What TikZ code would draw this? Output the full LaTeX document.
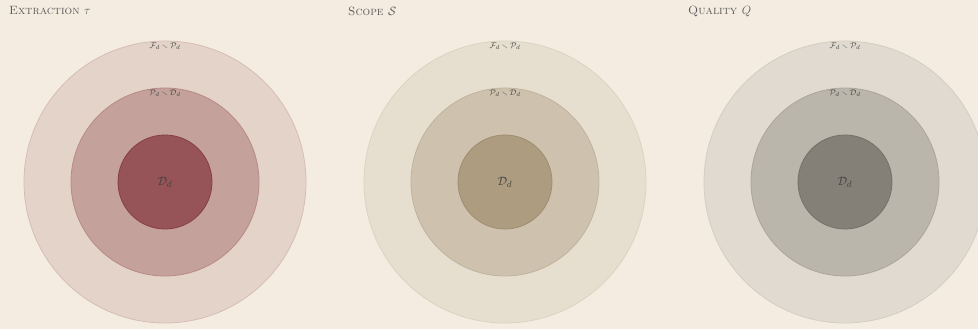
\documentclass[tikz,border=0pt]{standalone}
\usepackage{amsmath,amssymb}
\begin{document}
\begin{tikzpicture}[x=1pt,y=-1pt,
  ring/.style={line width=0.8pt},
  lab/.style={font=\footnotesize, inner sep=1pt, text=black!75},
  ttl/.style={font=\fontsize{12}{14}\selectfont\scshape, anchor=west, inner sep=0pt, text=black!65}]
\definecolor{bg}{HTML}{F4ECE0}
\definecolor{eA}{HTML}{E3D3C9}\definecolor{eAs}{HTML}{D6BDB4}
\definecolor{eB}{HTML}{C4A19B}\definecolor{eBs}{HTML}{B88A86}
\definecolor{eC}{HTML}{965458}\definecolor{eCs}{HTML}{853F45}
\definecolor{sA}{HTML}{E6DFD0}\definecolor{sAs}{HTML}{DCD2C0}
\definecolor{sB}{HTML}{CEC2AF}\definecolor{sBs}{HTML}{C0B29C}
\definecolor{sC}{HTML}{AD9C80}\definecolor{sCs}{HTML}{9F8D70}
\definecolor{qA}{HTML}{E0DAD0}\definecolor{qAs}{HTML}{D5CDC0}
\definecolor{qB}{HTML}{BAB6AB}\definecolor{qBs}{HTML}{ABA69A}
\definecolor{qC}{HTML}{858077}\definecolor{qCs}{HTML}{767168}
\path[use as bounding box, fill=bg] (0,0) rectangle (978,329);
\begin{scope}
\clip (0,0) rectangle (978,329);
\foreach \cx/\a/\n in {165/e/1,505/s/2,845/q/3}{
  \node[circle, minimum size=282pt, inner sep=0pt, fill=\a A, draw=\a As, ring] (outer\n) at (\cx,182) {};
  \node[circle, minimum size=188pt, inner sep=0pt, fill=\a B, draw=\a Bs, ring] (mid\n) at (\cx,182) {};
  \node[circle, minimum size=94pt, inner sep=0pt, fill=\a C, draw=\a Cs, ring] (inner\n) at (\cx,182) {};
  \node[lab] (lo\n) at (\cx,46) {$\mathcal{F}_d\smallsetminus\mathcal{P}_d$};
  \node[lab] (lm\n) at (\cx,93) {$\mathcal{P}_d\smallsetminus\mathcal{D}_d$};
  \node[lab, font=\fontsize{13}{15}\selectfont] (li\n) at (\cx,182) {$\mathcal{D}_d$};
}
\end{scope}
\node[ttl] (t1) at (9,11) {Extraction $\tau$};
\node[ttl] (t2) at (348,11) {Scope $\mathcal{S}$};
\node[ttl] (t3) at (688,11) {Quality $Q$};
\end{tikzpicture}
\end{document}
